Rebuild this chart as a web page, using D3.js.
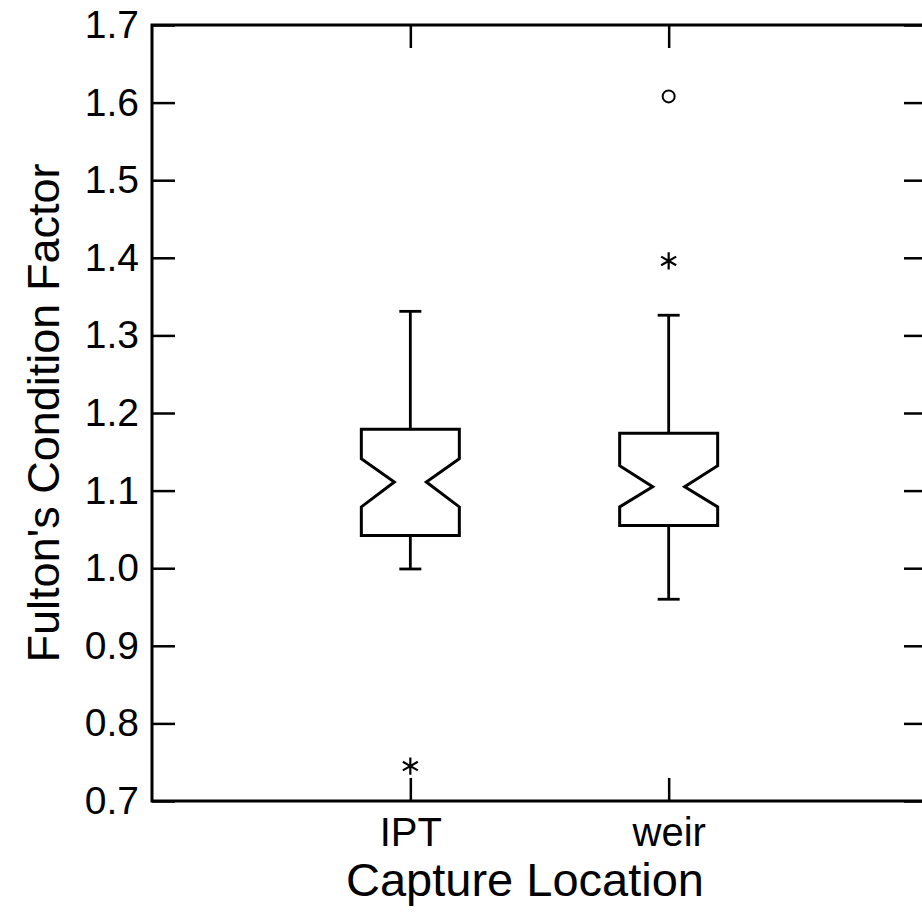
<!DOCTYPE html>
<html>
<head>
<meta charset="utf-8">
<script src="https://cdn.jsdelivr.net/npm/d3@7"></script>
<style>
  body { margin: 0; background: #fff; }
  text { font-family: "Liberation Sans", Arial, sans-serif; fill: #000; }
</style>
</head>
<body>
<svg id="chart" width="922" height="924"></svg>
<script>
// capture locations and box summaries
const categories = ['IPT', 'weir'];
const whiskerLow  = [0.999, 0.960];
const q1          = [1.042, 1.055];
const notchLow    = [1.079, 1.079];
const median      = [1.111, 1.105];
const notchHigh   = [1.141, 1.132];
const q3          = [1.179, 1.174];
const whiskerHigh = [1.331, 1.326];

// outside values: star = outside inner fence, circle = far outside
const outlierCat   = ['IPT', 'weir', 'weir'];
const outlierValue = [0.745, 1.396, 1.608];
const outlierKind  = ['star', 'star', 'circle'];

const yTicks = [0.7, 0.8, 0.9, 1.0, 1.1, 1.2, 1.3, 1.4, 1.5, 1.6, 1.7];

const margin = { top: 25, right: -5, bottom: 123, left: 152 };
const width = 922, height = 924;

const svg = d3.select('#chart');

const x = d3.scalePoint()
  .domain(categories)
  .range([margin.left, width - margin.right])
  .padding(1);

const y = d3.scaleLinear()
  .domain([0.7, 1.7])
  .range([height - margin.bottom, margin.top]);

const tickLen = 23;

// left axis with inward ticks
const gLeft = svg.append('g')
  .attr('transform', `translate(${margin.left},0)`)
  .call(d3.axisLeft(y).tickValues(yTicks).tickFormat(d3.format('.1f'))
    .tickSizeInner(-tickLen).tickSizeOuter(0).tickPadding(13));
gLeft.select('.domain').remove();
gLeft.selectAll('text').style('font-size', '39px');
gLeft.selectAll('line').attr('stroke', '#000').attr('stroke-width', 2.5);

// right axis, ticks only
const gRight = svg.append('g')
  .attr('transform', `translate(${width - margin.right},0)`)
  .call(d3.axisRight(y).tickValues(yTicks).tickFormat('')
    .tickSizeInner(-tickLen).tickSizeOuter(0));
gRight.select('.domain').remove();
gRight.selectAll('line').attr('stroke', '#000').attr('stroke-width', 2.5);

// bottom axis
const gBottom = svg.append('g')
  .attr('transform', `translate(0,${height - margin.bottom})`)
  .call(d3.axisBottom(x).tickSizeInner(-tickLen).tickSizeOuter(0).tickPadding(7));
gBottom.select('.domain').remove();
gBottom.selectAll('text').style('font-size', '40px').attr('dy', '0.95em');
gBottom.selectAll('line').attr('stroke', '#000').attr('stroke-width', 2.5);

// top axis, ticks only
const gTop = svg.append('g')
  .attr('transform', `translate(0,${margin.top})`)
  .call(d3.axisTop(x).tickFormat('').tickSizeInner(-tickLen).tickSizeOuter(0));
gTop.select('.domain').remove();
gTop.selectAll('line').attr('stroke', '#000').attr('stroke-width', 2.5);

// frame
svg.append('rect')
  .attr('x', margin.left)
  .attr('y', margin.top)
  .attr('width', width - margin.right - margin.left)
  .attr('height', height - margin.bottom - margin.top)
  .attr('fill', 'none')
  .attr('stroke', '#000')
  .attr('stroke-width', 3);

// boxes
const boxHalf = 49;
const notchHalf = 16;
const capHalf = 11;

categories.forEach((c, i) => {
  const cx = x(c);
  const g = svg.append('g');

  // whiskers
  g.append('line')
    .attr('x1', cx).attr('x2', cx)
    .attr('y1', y(q3[i])).attr('y2', y(whiskerHigh[i]));
  g.append('line')
    .attr('x1', cx).attr('x2', cx)
    .attr('y1', y(q1[i])).attr('y2', y(whiskerLow[i]));
  g.append('line')
    .attr('x1', cx - capHalf).attr('x2', cx + capHalf)
    .attr('y1', y(whiskerHigh[i])).attr('y2', y(whiskerHigh[i]));
  g.append('line')
    .attr('x1', cx - capHalf).attr('x2', cx + capHalf)
    .attr('y1', y(whiskerLow[i])).attr('y2', y(whiskerLow[i]));
  g.selectAll('line').attr('stroke', '#000').attr('stroke-width', 2.8);

  // notched box
  const pts = [
    [cx - boxHalf, y(q3[i])],
    [cx + boxHalf, y(q3[i])],
    [cx + boxHalf, y(notchHigh[i])],
    [cx + notchHalf, y(median[i])],
    [cx + boxHalf, y(notchLow[i])],
    [cx + boxHalf, y(q1[i])],
    [cx - boxHalf, y(q1[i])],
    [cx - boxHalf, y(notchLow[i])],
    [cx - notchHalf, y(median[i])],
    [cx - boxHalf, y(notchHigh[i])]
  ];
  g.append('path')
    .attr('d', d3.line()(pts) + 'Z')
    .attr('fill', '#fff')
    .attr('stroke', '#000')
    .attr('stroke-width', 3)
    .attr('stroke-linejoin', 'miter');
});

// outliers
outlierValue.forEach((v, i) => {
  const px = x(outlierCat[i]), py = y(v);
  if (outlierKind[i] === 'circle') {
    svg.append('circle')
      .attr('cx', px).attr('cy', py).attr('r', 6)
      .attr('fill', 'none').attr('stroke', '#000').attr('stroke-width', 2);
  } else {
    svg.append('path')
      .attr('transform', `translate(${px},${py})`)
      .attr('d', d3.symbol(d3.symbolAsterisk).size(210)())
      .attr('fill', 'none').attr('stroke', '#000').attr('stroke-width', 2.2);
  }
});

// axis titles
svg.append('text')
  .attr('x', 525)
  .attr('y', 896)
  .attr('text-anchor', 'middle')
  .style('font-size', '47px')
  .text('Capture Location');

svg.append('text')
  .attr('transform', `translate(59,${(y(0.7) + y(1.7)) / 2})rotate(-90)`)
  .attr('text-anchor', 'middle')
  .style('font-size', '45px')
  .text("Fulton's Condition Factor");
</script>
</body>
</html>
